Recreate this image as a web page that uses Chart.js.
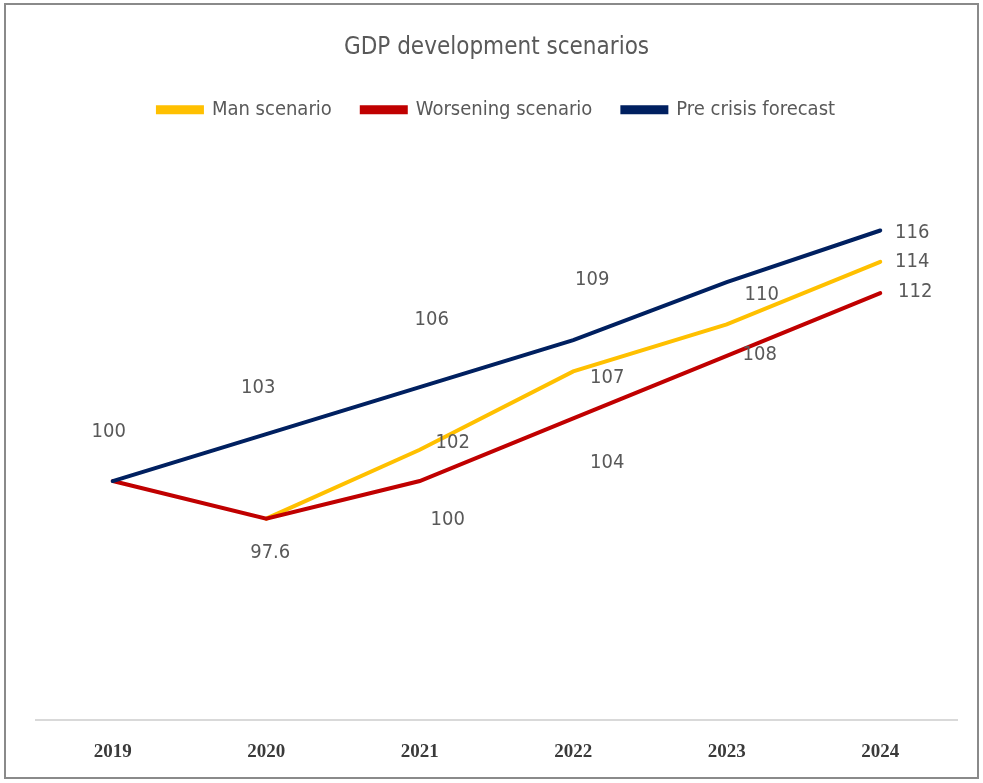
<!DOCTYPE html>
<html>
<head>
<meta charset="utf-8">
<title>GDP development scenarios</title>
<script src="https://cdn.jsdelivr.net/npm/chart.js@4.4.1/dist/chart.umd.min.js"></script>
<style>
  html, body { margin: 0; padding: 0; background: #fff; }
  #wrap { position: relative; width: 983px; height: 783px; }
  #frame {
    position: absolute; left: 4px; top: 3px; width: 971px; height: 772px;
    border: 2px solid #8a8a8a; pointer-events: none;
  }
</style>
</head>
<body>
<div id="wrap">
  <canvas id="gdpChart" width="983" height="783"></canvas>
  <div id="frame"></div>
</div>
<script>
// Index values, 2019 = 100
const years = ['2019', '2020', '2021', '2022', '2023', '2024'];
const mainScenario = [null, 97.6, 102, 107, 110, 114];
const worseScenario = [100, 97.6, 100, 104, 108, 112];
const preCrisis = [100, 103, 106, 109, 112.7, 116];

// Which point values get a printed label (the first two points share a label with another series)
const showMain = [false, false, true, true, true, true];
const showWorse = [false, true, true, true, true, true];
const showPre = [true, true, true, true, false, true];

const LABEL_FONT = '"Liberation Sans Narrow", "DejaVu Sans Condensed", "Liberation Sans", sans-serif';

// label placement relative to each point [dx, dy]
const labelOffsets = {
  main: [null, null, [33, -7], [34, 6], [35, -30], [32, 0]],
  worse: [null, [4, 34], [28, 39], [34, 44], [33, -1], [35, -1]],
  pre: [[-4, -49], [-8, -46], [12, -67], [19, -60], null, [32, 2]]
};

// Draws the value next to each point
const valueLabels = {
  id: 'valueLabels',
  afterDatasetsDraw(chart) {
    const ctx = chart.ctx;
    ctx.save();
    ctx.font = '20px ' + LABEL_FONT;
    ctx.fillStyle = '#595959';
    ctx.textAlign = 'center';
    ctx.textBaseline = 'middle';
    chart.data.datasets.forEach((ds, i) => {
      const meta = chart.getDatasetMeta(i);
      const offs = labelOffsets[ds.key];
      meta.data.forEach((pt, j) => {
        const v = ds.data[j];
        if (v == null || !ds.showLabel[j] || !offs[j]) return;
        ctx.fillText(String(v), pt.x + offs[j][0], pt.y + offs[j][1]);
      });
    });
    ctx.restore();
  }
};

const ctx = document.getElementById('gdpChart').getContext('2d');
const chart = new Chart(ctx, {
  type: 'line',
  data: {
    labels: years,
    datasets: [
      {
        key: 'main',
        label: 'Man scenario',
        data: mainScenario,
        showLabel: showMain,
        borderColor: '#FFC000',
        backgroundColor: '#FFC000',
        order: 2
      },
      {
        key: 'worse',
        label: 'Worsening scenario',
        data: worseScenario,
        showLabel: showWorse,
        borderColor: '#C00000',
        backgroundColor: '#C00000',
        order: 1
      },
      {
        key: 'pre',
        label: 'Pre crisis forecast',
        data: preCrisis,
        showLabel: showPre,
        borderColor: '#002060',
        backgroundColor: '#002060',
        order: 0
      }
    ]
  },
  options: {
    responsive: false,
    animation: false,
    layout: {
      padding: { top: 10, left: 36, right: 26, bottom: 0 }
    },
    elements: {
      line: { borderWidth: 4, tension: 0, borderCapStyle: 'round' },
      point: { radius: 0, hoverRadius: 0 }
    },
    plugins: {
      title: {
        display: true,
        text: 'GDP development scenarios',
        color: '#595959',
        font: { family: LABEL_FONT, size: 24, weight: 'normal' },
        padding: { top: 23, bottom: 8 }
      },
      legend: {
        display: true,
        position: 'top',
        labels: {
          color: '#595959',
          font: { family: LABEL_FONT, size: 20 },
          boxWidth: 44,
          boxHeight: 5,
          padding: 30,
          sort: (a, b) => a.datasetIndex - b.datasetIndex
        }
      },
      tooltip: { enabled: false }
    },
    scales: {
      x: {
        offset: true,
        grid: { display: false, drawTicks: false },
        border: { display: true, color: '#d9d9d9', width: 2 },
        ticks: {
          color: '#3a3a3a',
          padding: 20,
          font: { family: '"Liberation Serif", "DejaVu Serif", serif', size: 19, weight: 'bold' }
        }
      },
      y: {
        display: false,
        min: 84.73,
        max: 122.43
      }
    }
  },
  plugins: [valueLabels]
});
</script>
</body>
</html>
